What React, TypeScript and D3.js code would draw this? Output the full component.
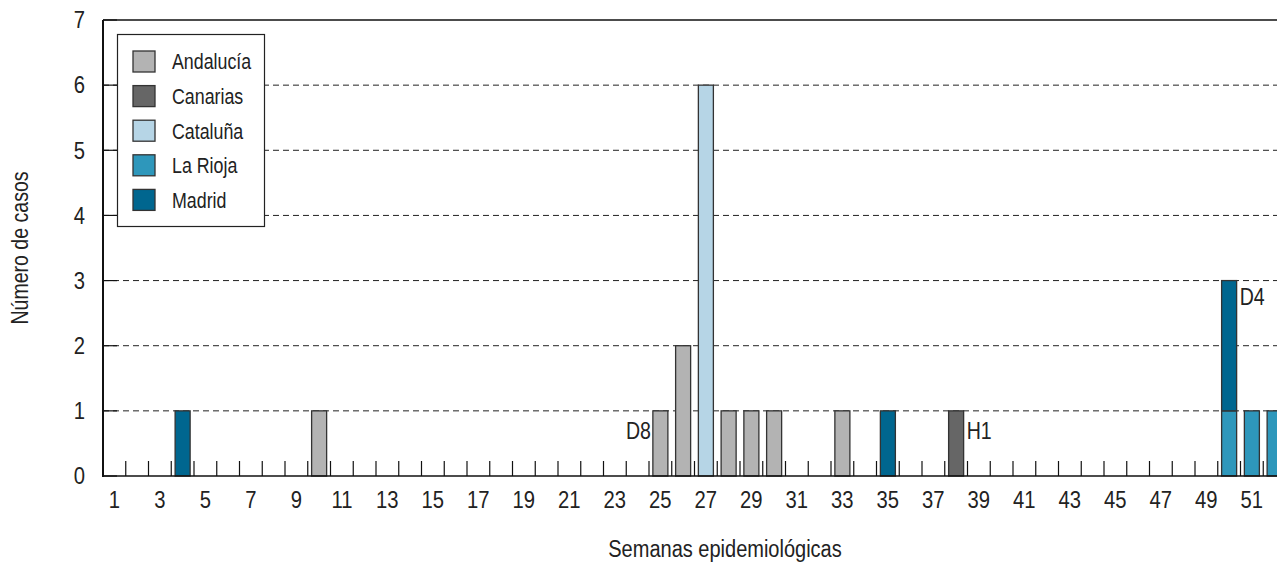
import React from "react";
import * as d3 from "d3";

const regions = ["Andalucía", "Canarias", "Cataluña", "La Rioja", "Madrid"];
const colors = ["#b3b3b3", "#666666", "#b6d5e6", "#2e97bb", "#00668f"];
const weeks = d3.range(1, 53);
// cases per week for each region: [week, Andalucía, Canarias, Cataluña, La Rioja, Madrid]
const weekRows: number[][] = [
  [4, 0, 0, 0, 0, 1],
  [10, 1, 0, 0, 0, 0],
  [25, 1, 0, 0, 0, 0],
  [26, 2, 0, 0, 0, 0],
  [27, 0, 0, 6, 0, 0],
  [28, 1, 0, 0, 0, 0],
  [29, 1, 0, 0, 0, 0],
  [30, 1, 0, 0, 0, 0],
  [33, 1, 0, 0, 0, 0],
  [35, 0, 0, 0, 0, 1],
  [38, 0, 1, 0, 0, 0],
  [50, 0, 0, 0, 1, 2],
  [51, 0, 0, 0, 1, 0],
  [52, 0, 0, 0, 1, 0],
];
const yTicks = [0, 1, 2, 3, 4, 5, 6, 7];
const annotations = [
  { week: 25, value: 0.7, text: "D8", side: "left" },
  { week: 38, value: 0.7, text: "H1", side: "right" },
  { week: 50, value: 2.75, text: "D4", side: "right" },
];

const FONT = "'Liberation Sans', Arial, sans-serif";

function T(props: { x: number; y: number; anchor?: string; size?: number; sx?: number; rotate?: number; children: React.ReactNode; dy?: string }) {
  const { x, y, anchor = "start", size = 21, sx = 0.85, rotate = 0, children, dy } = props;
  return (
    <text transform={`translate(${x},${y}) rotate(${rotate}) scale(${sx},1)`} textAnchor={anchor}
      fontSize={size} fill="#222" dy={dy}>{children}</text>
  );
}

export default function App() {
  const W = 1277, H = 562;
  const left = 103, top = 20, bottom = 476;
  const bandW = 22.75;
  const x = d3.scaleBand<number>().domain(weeks).range([left, left + bandW * 52]).paddingInner(0.34).paddingOuter(0.17);
  const y = d3.scaleLinear().domain([0, 7]).range([bottom, top]);
  const boundary = (k: number) => left + k * bandW;

  const stack = d3.stack<number[]>().keys(regions.map((_, i) => String(i)))
    .value((d, key) => d[+key + 1]);
  const series = stack(weekRows);

  return (
    <svg width={W} height={H} style={{ position: "absolute", left: 0, top: 0 }} fontFamily={FONT}>
      <rect width={W} height={H} fill="#fff" />
      {/* gridlines */}
      {yTicks.filter(t => t > 0 && t < 7).map(t => (
        <line key={"g" + t} x1={left} x2={W} y1={y(t)} y2={y(t)} stroke="#222" strokeWidth={1} strokeDasharray="6,4" />
      ))}
      {/* top frame */}
      <line x1={left} x2={W} y1={y(7)} y2={y(7)} stroke="#111" strokeWidth={1.5} />
      {/* y ticks inward */}
      {yTicks.map(t => (
        <line key={"yt" + t} x1={left} x2={left + 14} y1={y(t)} y2={y(t)} stroke="#111" strokeWidth={1.2} />
      ))}
      {/* x ticks inward at week boundaries */}
      {d3.range(1, 53).map(k => (
        <line key={"xt" + k} x1={boundary(k)} x2={boundary(k)} y1={bottom} y2={bottom - 15} stroke="#111" strokeWidth={1.2} />
      ))}
      {/* bars */}
      {series.map((s, si) => s.map((d, di) => {
        if (d[1] - d[0] <= 0) return null;
        const wk = weekRows[di][0];
        return (
          <rect key={si + "-" + di} x={x(wk)!} width={x.bandwidth()} y={y(d[1])} height={y(d[0]) - y(d[1])}
            fill={colors[si]} stroke="#333" strokeWidth={1.3} />
        );
      }))}
      {/* axes lines */}
      <line x1={left} x2={W} y1={bottom} y2={bottom} stroke="#111" strokeWidth={1.5} />
      <line x1={left} x2={left} y1={top} y2={bottom + 1} stroke="#111" strokeWidth={2} />
      {/* y labels */}
      {yTicks.map(t => (
        <T key={"yl" + t} x={85} y={y(t)} dy="0.36em" anchor="end" size={23} sx={0.88}>{t}</T>
      ))}
      {/* x labels */}
      {weeks.filter(w => w % 2 === 1).map(w => (
        <T key={"xl" + w} x={x(w)! + x.bandwidth() / 2} y={508} anchor="middle" size={23} sx={0.88}>{w}</T>
      ))}
      {/* annotations */}
      {annotations.map(a => (
        <T key={a.text}
          x={a.side === "left" ? x(a.week)! - 2 : x(a.week)! + x.bandwidth() + 3}
          y={y(a.value)} dy="0.36em" anchor={a.side === "left" ? "end" : "start"} size={23} sx={0.85}>{a.text}</T>
      ))}
      {/* axis titles */}
      <T x={725} y={557} anchor="middle" size={23} sx={0.87}>Semanas epidemiológicas</T>
      <T x={28} y={(top + bottom) / 2} anchor="middle" rotate={-90} size={23} sx={0.85}>Número de casos</T>
      {/* legend */}
      <rect x={117.5} y={34.5} width={147} height={192} fill="#fff" stroke="#222" strokeWidth={1.2} />
      {regions.map((r, i) => (
        <g key={r} transform={`translate(133,${51 + i * 34.6})`}>
          <rect width={22} height={21} fill={colors[i]} stroke="#333" strokeWidth={1.3} />
          <T x={39} y={10.5} dy="0.36em" size={22} sx={0.81}>{r}</T>
        </g>
      ))}
    </svg>
  );
}
